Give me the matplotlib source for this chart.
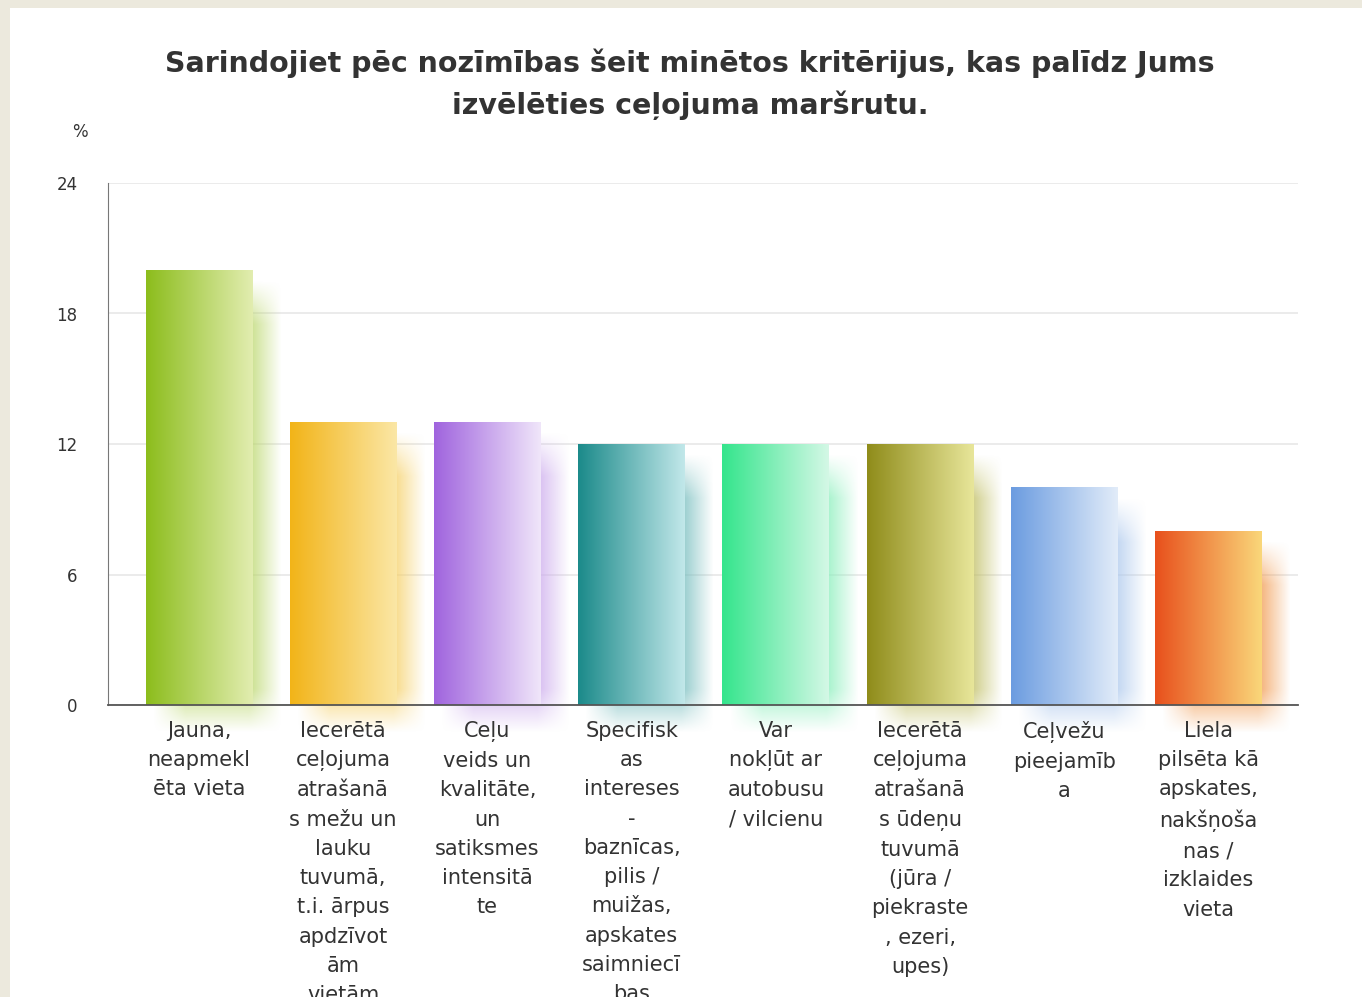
"""Ranking of route selection criteria - gradient bar chart."""
import matplotlib
matplotlib.use("Agg")
import matplotlib.pyplot as plt
from matplotlib.colors import LinearSegmentedColormap, to_rgb
from matplotlib.patches import Rectangle
import numpy as np

TITLE = "Sarindojiet pēc nozīmības šeit minētos kritērijus, kas palīdz Jums\nizvēlēties ceļojuma maršrutu."

labels = [
    "Jauna,\nneapmekl\nēta vieta",
    "Iecerētā\nceļojuma\natrašanā\ns mežu un\nlauku\ntuvumā,\nt.i. ārpus\napdzīvot\nām\nvietām",
    "Ceļu\nveids un\nkvalitāte,\nun\nsatiksmes\nintensitā\nte",
    "Specifisk\nas\nintereses\n-\nbaznīcas,\npilis /\nmuižas,\napskates\nsaimniecī\nbas",
    "Var\nnokļūt ar\nautobusu\n/ vilcienu",
    "Iecerētā\nceļojuma\natrašanā\ns ūdeņu\ntuvumā\n(jūra /\npiekraste\n, ezeri,\nupes)",
    "Ceļvežu\npieejamīb\na",
    "Liela\npilsēta kā\napskates,\nnakšņoša\nnas /\nizklaides\nvieta",
]
values = [20, 13, 13, 12, 12, 12, 10, 8]

dark_colors = ["#8cbd1c", "#f2b418", "#a064de", "#1b8a8a", "#34e58c", "#8f8c1a", "#6b9ce0", "#e8501c"]
light_colors = ["#e2edb0", "#fbe7a6", "#f0e6fa", "#c2e8ea", "#d4f8e6", "#e8e69a", "#e2ecf9", "#fad77a"]

yticks = [0, 6, 12, 18, 24]


def ramp(n, edge):
    # 0..1..0 profile with soft edges
    t = np.linspace(0, 1, n)
    up = np.clip(t / edge, 0, 1)
    down = np.clip((1 - t) / edge, 0, 1)
    return np.minimum(up, down)


fig = plt.figure(figsize=(13.62, 9.97), dpi=100)
fig.patch.set_facecolor("#ece9dd")
fig.patches.append(Rectangle((10 / 1362, 0), 1, 1 - 8 / 997, transform=fig.transFigure,
                             facecolor="white", edgecolor="none", zorder=-5))

ax = fig.add_axes([108 / 1362, 1 - 705 / 997, 1190 / 1362, 522 / 997])
ax.set_facecolor("none")

width = 0.74
for i, (v, c0, c1) in enumerate(zip(values, dark_colors, light_colors)):
    x0, x1 = i - width / 2, i + width / 2
    # blurred shadow, shifted right and down
    shade = np.array(to_rgb(c1)) * 0.55 + np.array(to_rgb(c0)) * 0.45
    sx0, sx1 = x0 + 0.05, x1 + 0.2
    sy0, sy1 = -1.3, v - 0.5
    nx, ny = 120, 200
    ax_prof = ramp(nx, 0.25)
    ay_prof = ramp(ny, 2.0 / (sy1 - sy0))
    alpha = np.outer(ay_prof, ax_prof) * 0.8
    img = np.zeros((ny, nx, 4))
    img[..., :3] = shade
    img[..., 3] = alpha
    ax.imshow(img, extent=[sx0, sx1, sy0, sy1], origin="lower", aspect="auto",
              zorder=1, interpolation="bilinear", clip_on=False)
    cmap = LinearSegmentedColormap.from_list(f"g{i}", [c0, c1])
    grad = np.linspace(0, 1, 256).reshape(1, -1)
    ax.imshow(grad, cmap=cmap, extent=[x0, x1, 0, v], aspect="auto", zorder=2,
              interpolation="bicubic")
    ax.text(i, -0.72, labels[i], ha="center", va="top", fontsize=15, color="#333333",
            linespacing=1.58, clip_on=False, zorder=5)

ax.set_xlim(-0.63, 7.62)
ax.set_ylim(0, 24)
ax.set_yticks(yticks)
ax.set_xticks([])
ax.grid(axis="y", color="#e8e8e8", linewidth=1.2, zorder=0)
ax.set_axisbelow(True)
ax.tick_params(axis="y", length=0, pad=22, labelsize=12, labelcolor="#333333")
for s in ["top", "right"]:
    ax.spines[s].set_visible(False)
ax.spines["left"].set_color("#777777")
ax.spines["bottom"].set_color("#555555")
ax.spines["bottom"].set_linewidth(1.3)
ax.spines["bottom"].set_zorder(4)

fig.text(690 / 1362, 1 - 48 / 997, TITLE, ha="center", va="top", fontsize=20.5,
         fontweight="bold", color="#333333", linespacing=1.55)
fig.text(80 / 1362, 1 - 132 / 997, "%", ha="center", va="center", fontsize=12, color="#333333")

fig.savefig("out.png", dpi=100)
